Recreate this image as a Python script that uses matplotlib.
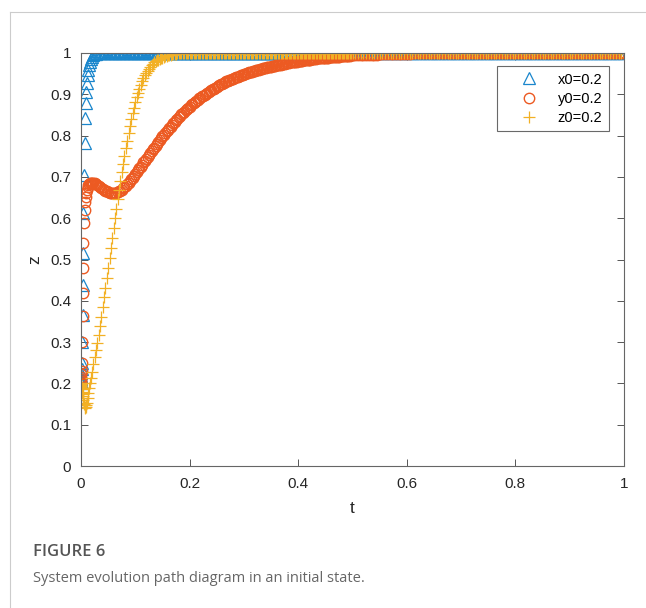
import matplotlib
matplotlib.use("Agg")
import matplotlib.pyplot as plt
from matplotlib.lines import Line2D

plt.rcParams['font.family'] = ['Liberation Sans', 'DejaVu Sans']

# solver time steps (shared by the three series)
t_start = [0, 0.0002, 0.0004, 0.0006, 0.0008, 0.001, 0.0015, 0.0025, 0.003, 0.0035, 0.004, 0.0045,
           0.0055, 0.0065, 0.0075, 0.0085, 0.0095, 0.0105, 0.012, 0.0135, 0.015, 0.0165, 0.018, 0.02]
t_mid = [0.0225, 0.025, 0.0275, 0.03, 0.0325, 0.035, 0.0375, 0.04, 0.0425, 0.045, 0.0475, 0.05,
         0.0525, 0.055, 0.0575, 0.06, 0.0625, 0.065, 0.0675, 0.07, 0.0725, 0.075, 0.0775, 0.08,
         0.0825, 0.085, 0.0875, 0.09, 0.0925, 0.095, 0.0975, 0.1, 0.1025, 0.105, 0.1075, 0.11,
         0.1125, 0.115, 0.1175, 0.12, 0.1225, 0.125, 0.1275, 0.13, 0.1325, 0.135, 0.1375, 0.14,
         0.1425, 0.145, 0.1475, 0.15, 0.1525, 0.155, 0.1575, 0.16, 0.1625, 0.165, 0.1675, 0.17,
         0.1725, 0.175, 0.1775, 0.18, 0.1825, 0.185, 0.1875, 0.19, 0.1925, 0.195, 0.1975, 0.2]
t_tail1 = [0.2025, 0.205, 0.2075, 0.21, 0.2125, 0.215, 0.2175, 0.22, 0.2225, 0.225,
           0.2275, 0.23, 0.2325, 0.235, 0.2375, 0.24, 0.2425, 0.245, 0.2475, 0.25,
           0.2525, 0.255, 0.2575, 0.26, 0.2625, 0.265, 0.2675, 0.27, 0.2725, 0.275,
           0.2775, 0.28, 0.2825, 0.285, 0.2875, 0.29, 0.2925, 0.295, 0.2975, 0.3,
           0.3025, 0.305, 0.3075, 0.31, 0.3125, 0.315, 0.3175, 0.32, 0.3225, 0.325,
           0.3275, 0.33, 0.3325, 0.335, 0.3375, 0.34, 0.3425, 0.345, 0.3475, 0.35,
           0.3525, 0.355, 0.3575, 0.36, 0.3625, 0.365, 0.3675, 0.37, 0.3725, 0.375,
           0.3775, 0.38, 0.3825, 0.385, 0.3875, 0.39, 0.3925, 0.395, 0.3975, 0.4,
           0.4025, 0.405, 0.4075, 0.41, 0.4125, 0.415, 0.4175, 0.42, 0.4225, 0.425,
           0.4275, 0.43, 0.4325, 0.435, 0.4375, 0.44, 0.4425, 0.445, 0.4475, 0.45,
           0.4525, 0.455, 0.4575, 0.46, 0.4625, 0.465, 0.4675, 0.47, 0.4725, 0.475,
           0.4775, 0.48, 0.4825, 0.485, 0.4875, 0.49, 0.4925, 0.495, 0.4975, 0.5]
t_tail2 = [0.505, 0.51, 0.515, 0.52, 0.525, 0.53, 0.535, 0.54, 0.545, 0.55,
           0.555, 0.56, 0.565, 0.57, 0.575, 0.58, 0.585, 0.59, 0.595, 0.6,
           0.605, 0.61, 0.615, 0.62, 0.625, 0.63, 0.635, 0.64, 0.645, 0.65,
           0.655, 0.66, 0.665, 0.67, 0.675, 0.68, 0.685, 0.69, 0.695, 0.7,
           0.705, 0.71, 0.715, 0.72, 0.725, 0.73, 0.735, 0.74, 0.745, 0.75,
           0.755, 0.76, 0.765, 0.77, 0.775, 0.78, 0.785, 0.79, 0.795, 0.8,
           0.805, 0.81, 0.815, 0.82, 0.825, 0.83, 0.835, 0.84, 0.845, 0.85,
           0.855, 0.86, 0.865, 0.87, 0.875, 0.88, 0.885, 0.89, 0.895, 0.9,
           0.905, 0.91, 0.915, 0.92, 0.925, 0.93, 0.935, 0.94, 0.945, 0.95,
           0.955, 0.96, 0.965, 0.97, 0.975, 0.98, 0.985, 0.99, 0.995, 1.0]

# x series (x0=0.2)
x_start = [0.200, 0.205, 0.211, 0.218, 0.226, 0.235, 0.250, 0.301, 0.366, 0.438, 0.515, 0.612,
           0.705, 0.781, 0.842, 0.878, 0.906, 0.927, 0.946, 0.960, 0.971, 0.979, 0.985, 0.990]
x_mid = [0.994, 0.997, 0.998, 0.999, 0.999, 1, 1, 1, 1, 1, 1, 1,
         1, 1, 1, 1, 1, 1, 1, 1, 1, 1, 1, 1,
         1, 1, 1, 1, 1, 1, 1, 1, 1, 1, 1, 1,
         1, 1, 1, 1, 1, 1, 1, 1, 1, 1, 1, 1,
         1, 1, 1, 1, 1, 1, 1, 1, 1, 1, 1, 1,
         1, 1, 1, 1, 1, 1, 1, 1, 1, 1, 1, 1]

# y series (y0=0.2)
y_start = [0.200, 0.205, 0.210, 0.216, 0.223, 0.231, 0.250, 0.300, 0.362, 0.418, 0.479, 0.539,
           0.588, 0.620, 0.640, 0.652, 0.661, 0.668, 0.675, 0.680, 0.683, 0.685, 0.686, 0.686]
y_mid = [0.686, 0.685, 0.683, 0.681, 0.679, 0.676, 0.674, 0.671, 0.669, 0.667, 0.665, 0.663,
         0.662, 0.661, 0.660, 0.660, 0.661, 0.662, 0.663, 0.665, 0.667, 0.669, 0.672, 0.675,
         0.678, 0.682, 0.686, 0.690, 0.694, 0.698, 0.703, 0.707, 0.712, 0.716, 0.721, 0.725,
         0.730, 0.735, 0.739, 0.744, 0.748, 0.753, 0.758, 0.762, 0.767, 0.771, 0.776, 0.780,
         0.785, 0.789, 0.793, 0.798, 0.802, 0.806, 0.810, 0.814, 0.818, 0.822, 0.826, 0.830,
         0.834, 0.838, 0.841, 0.845, 0.848, 0.852, 0.855, 0.858, 0.861, 0.864, 0.867, 0.870]
y_tail1 = [0.873, 0.876, 0.879, 0.881, 0.884, 0.887, 0.890, 0.892, 0.895, 0.897,
           0.899, 0.901, 0.904, 0.906, 0.908, 0.910, 0.912, 0.914, 0.916, 0.918,
           0.920, 0.922, 0.924, 0.925, 0.927, 0.929, 0.931, 0.932, 0.934, 0.935,
           0.937, 0.938, 0.940, 0.941, 0.942, 0.943, 0.945, 0.946, 0.947, 0.948,
           0.950, 0.951, 0.952, 0.953, 0.954, 0.955, 0.956, 0.957, 0.958, 0.959,
           0.960, 0.961, 0.962, 0.963, 0.963, 0.964, 0.965, 0.966, 0.966, 0.967,
           0.968, 0.969, 0.969, 0.970, 0.971, 0.972, 0.972, 0.973, 0.973, 0.974,
           0.975, 0.976, 0.976, 0.977, 0.977, 0.978, 0.978, 0.979, 0.979, 0.980,
           0.980, 0.981, 0.981, 0.982, 0.982, 0.983, 0.983, 0.984, 0.984, 0.985,
           0.985, 0.986, 0.986, 0.987, 0.987, 0.987, 0.988, 0.988, 0.988, 0.989,
           0.989, 0.989, 0.990, 0.990, 0.990, 0.990, 0.991, 0.991, 0.991, 0.991,
           0.992, 0.992, 0.992, 0.992, 0.993, 0.993, 0.993, 0.993, 0.994, 0.994]
y_tail2 = [0.994, 0.994, 0.995, 0.995, 0.995, 0.996, 0.996, 0.996, 0.996, 0.997,
           0.997, 0.997, 0.997, 0.997, 0.998, 0.998, 0.998, 0.998, 0.998, 0.998,
           0.998, 0.999, 0.999, 0.999, 0.999, 0.999, 0.999, 0.999, 0.999, 0.999,
           0.999, 0.999, 0.999, 0.999, 0.999, 0.999, 0.999, 0.999, 0.999, 0.999,
           0.999, 0.999, 0.999, 0.999, 0.999, 1, 1, 1, 1, 1,
           1, 1, 1, 1, 1, 1, 1, 1, 1, 1,
           1, 1, 1, 1, 1, 1, 1, 1, 1, 1,
           1, 1, 1, 1, 1, 1, 1, 1, 1, 1,
           1, 1, 1, 1, 1, 1, 1, 1, 1, 1,
           1, 1, 1, 1, 1, 1, 1, 1, 1, 1]

# z series (z0=0.2)
z_start = [0.200, 0.198, 0.196, 0.194, 0.192, 0.190, 0.186, 0.178, 0.174, 0.170, 0.165, 0.160,
           0.151, 0.144, 0.140, 0.142, 0.147, 0.153, 0.164, 0.176, 0.188, 0.200, 0.212, 0.228]
z_mid = [0.246, 0.264, 0.281, 0.298, 0.318, 0.339, 0.361, 0.384, 0.408, 0.432, 0.456, 0.480,
         0.504, 0.528, 0.552, 0.576, 0.600, 0.623, 0.646, 0.668, 0.690, 0.711, 0.731, 0.751,
         0.770, 0.788, 0.806, 0.823, 0.839, 0.854, 0.868, 0.881, 0.893, 0.904, 0.914, 0.923,
         0.931, 0.939, 0.946, 0.952, 0.957, 0.962, 0.966, 0.970, 0.974, 0.977, 0.980, 0.982,
         0.984, 0.986, 0.988, 0.989, 0.991, 0.992, 0.993, 0.994, 0.995, 0.996, 0.997, 0.997,
         0.998, 0.998, 0.999, 0.999, 0.999, 0.999, 1, 1, 1, 1, 1, 1]

# after t=0.2 both x and z sit at 1 (220 steps)
flat_tail = [1, 1, 1, 1, 1, 1, 1, 1, 1, 1,
             1, 1, 1, 1, 1, 1, 1, 1, 1, 1,
             1, 1, 1, 1, 1, 1, 1, 1, 1, 1,
             1, 1, 1, 1, 1, 1, 1, 1, 1, 1,
             1, 1, 1, 1, 1, 1, 1, 1, 1, 1,
             1, 1, 1, 1, 1, 1, 1, 1, 1, 1,
             1, 1, 1, 1, 1, 1, 1, 1, 1, 1,
             1, 1, 1, 1, 1, 1, 1, 1, 1, 1,
             1, 1, 1, 1, 1, 1, 1, 1, 1, 1,
             1, 1, 1, 1, 1, 1, 1, 1, 1, 1,
             1, 1, 1, 1, 1, 1, 1, 1, 1, 1,
             1, 1, 1, 1, 1, 1, 1, 1, 1, 1,
             1, 1, 1, 1, 1, 1, 1, 1, 1, 1,
             1, 1, 1, 1, 1, 1, 1, 1, 1, 1,
             1, 1, 1, 1, 1, 1, 1, 1, 1, 1,
             1, 1, 1, 1, 1, 1, 1, 1, 1, 1,
             1, 1, 1, 1, 1, 1, 1, 1, 1, 1,
             1, 1, 1, 1, 1, 1, 1, 1, 1, 1,
             1, 1, 1, 1, 1, 1, 1, 1, 1, 1,
             1, 1, 1, 1, 1, 1, 1, 1, 1, 1,
             1, 1, 1, 1, 1, 1, 1, 1, 1, 1,
             1, 1, 1, 1, 1, 1, 1, 1, 1, 1]

t = t_start + t_mid + t_tail1 + t_tail2
xs = x_start + x_mid + flat_tail
ys = y_start + y_mid + y_tail1 + y_tail2
zs = z_start + z_mid + flat_tail

labels = ['x0=0.2', 'y0=0.2', 'z0=0.2']
colors = ['#1a86cc', '#ec5a22', '#f2b025']

fig = plt.figure(figsize=(6.46, 6.08), dpi=100)

# page frame lines of the journal figure
fig.add_artist(Line2D([10 / 646, 1], [1 - 12 / 608, 1 - 12 / 608], color='#cccccc', lw=0.8))
fig.add_artist(Line2D([10 / 646, 10 / 646], [0, 1 - 12 / 608], color='#cccccc', lw=0.8))

ax = fig.add_axes([81 / 646, 1 - 466 / 608, 543 / 646, 413 / 608])
ax.plot(t, xs, linestyle='none', marker='^', ms=8, mfc='none', mec=colors[0], mew=0.9, label=labels[0])
ax.plot(t, ys, linestyle='none', marker='o', ms=7.5, mfc='none', mec=colors[1], mew=1.0, label=labels[1])
ax.plot(t, zs, linestyle='none', marker='+', ms=8.5, mec=colors[2], mew=0.9, label=labels[2])

ax.set_xlim(0, 1)
ax.set_ylim(0, 1)
ax.set_xticks([0, 0.2, 0.4, 0.6, 0.8, 1])
ax.set_xticklabels(['0', '0.2', '0.4', '0.6', '0.8', '1'])
ax.set_yticks([0, 0.1, 0.2, 0.3, 0.4, 0.5, 0.6, 0.7, 0.8, 0.9, 1])
ax.set_yticklabels(['0', '0.1', '0.2', '0.3', '0.4', '0.5', '0.6', '0.7', '0.8', '0.9', '1'])
ax.tick_params(direction='in', length=5, width=0.7, color='#555555', labelcolor='#262626',
               labelsize=11, top=True, right=True)
ax.tick_params(axis='x', pad=8)
ax.tick_params(axis='y', pad=7)
for s in ax.spines.values():
    s.set_color('#666666')
    s.set_linewidth(0.8)
ax.set_xlabel('t', fontsize=12.5, color='#262626', labelpad=7)
ax.set_ylabel('z', fontsize=12.5, color='#262626', labelpad=6)

leg = ax.legend(loc='upper right', bbox_to_anchor=(0.972, 0.9685), borderaxespad=0,
                fontsize=10.5, frameon=True, fancybox=False, handletextpad=0.2,
                handlelength=3.5, borderpad=0.45, labelspacing=0.35)
leg.get_frame().set_edgecolor('#444444')
leg.get_frame().set_linewidth(0.8)

fig.text(33 / 646, 1 - 552 / 608, 'FIGURE 6', fontsize=12, color='#555555',
         family=['Open Sans', 'DejaVu Sans'], fontweight='semibold', va='center')
fig.text(33 / 646, 1 - 578 / 608, 'System evolution path diagram in an initial state.', fontsize=10.5,
         color='#666666', family=['Open Sans', 'DejaVu Sans'], va='center')

fig.savefig('out.png', dpi=100)
